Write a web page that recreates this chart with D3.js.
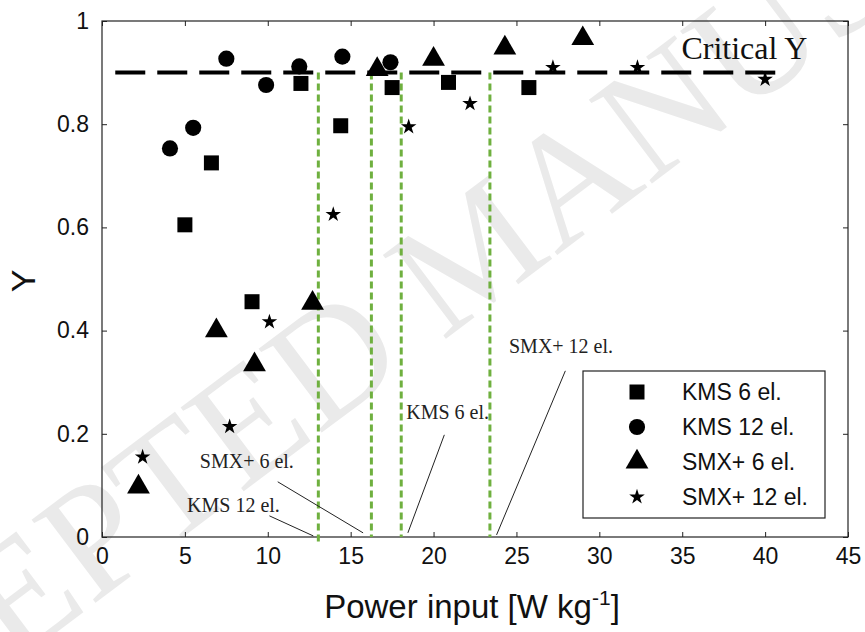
<!DOCTYPE html>
<html>
<head>
<meta charset="utf-8">
<script src="https://cdn.jsdelivr.net/npm/d3@7"></script>
<style>
  body { margin: 0; background: #fff; }
  text { font-family: "Liberation Sans", Arial, sans-serif; }
  .serif { font-family: "Liberation Serif", "Times New Roman", serif; }
</style>
</head>
<body>
<div id="dataviz"></div>
<script>
// tick values
var xTicks = [0, 5, 10, 15, 20, 25, 30, 35, 40, 45];
var yTicks = [0, 0.2, 0.4, 0.6, 0.8, 1];
var yTickLabels = ["0", "0.2", "0.4", "0.6", "0.8", "1"];

// series: [power input, Y]
var kms6 = [[5.0, 0.605], [6.6, 0.725], [9.05, 0.456], [12.0, 0.879], [14.4, 0.797],
            [17.5, 0.871], [20.9, 0.881], [25.75, 0.871]];
var kms12 = [[4.1, 0.753], [5.5, 0.793], [7.5, 0.927], [9.9, 0.876], [11.9, 0.912],
             [14.5, 0.931], [17.4, 0.92]];
var smx6 = [[2.2, 0.097], [6.9, 0.40], [9.2, 0.334], [12.7, 0.453], [16.6, 0.906],
            [20.0, 0.926], [24.3, 0.948], [29.0, 0.966]];
var smx12 = [[2.45, 0.155], [7.7, 0.214], [10.1, 0.417], [13.95, 0.625], [18.5, 0.795],
             [22.2, 0.84], [27.2, 0.91], [32.3, 0.91], [40.0, 0.887]];

var seriesNames = ["KMS 6 el.", "KMS 12 el.", "SMX+ 6 el.", "SMX+ 12 el."];

// critical Y and critical power inputs
var criticalY = 0.9;
var criticalRange = [0.8, 40.8];
var criticalPower = [13.05, 16.25, 18.05, 23.4];

// annotation labels: text anchor, leader line start and end (data units)
var annotLabels = ["KMS 12 el.", "SMX+ 6 el.", "KMS 6 el.", "SMX+ 12 el."];
var annotText = [[5.13, 0.048], [5.9, 0.134], [18.35, 0.229], [24.55, 0.357]];
var annotFrom = [[10.1, 0.041], [10.6, 0.107], [20.65, 0.198], [27.95, 0.322]];
var annotTo = [[12.75, 0.002], [15.75, 0.008], [18.45, 0.008], [23.8, 0.004]];

var margin = { top: 21, right: 17, bottom: 95, left: 102 },
    width = 865 - margin.left - margin.right,
    height = 632 - margin.top - margin.bottom;

var root = d3.select("#dataviz")
    .append("svg")
    .attr("width", 865)
    .attr("height", 632);

// faint watermark in the background
root.append("text")
    .attr("class", "serif")
    .attr("transform", "translate(508,292) rotate(-37)")
    .attr("text-anchor", "middle")
    .attr("font-size", 160)
    .attr("fill", "#eaeaea")
    .text("ACCEPTED MANUSCRIPT");

var svg = root.append("g")
    .attr("transform", "translate(" + margin.left + "," + margin.top + ")");

var x = d3.scaleLinear().domain([0, 45]).range([0, width]);
var y = d3.scaleLinear().domain([0, 1]).range([height, 0]);

// axes with inward ticks on all four sides
svg.append("g")
    .attr("transform", "translate(0," + height + ")")
    .call(d3.axisBottom(x).tickValues(xTicks).tickSizeInner(-5).tickSizeOuter(0).tickPadding(11))
    .call(function (g) {
        g.select(".domain").remove();
        g.selectAll("text").attr("font-size", 23).attr("fill", "#111").attr("dy", "0.71em");
    });
svg.append("g")
    .call(d3.axisTop(x).tickValues(xTicks).tickSizeInner(-5).tickSizeOuter(0).tickFormat(""))
    .call(function (g) { g.select(".domain").remove(); });
svg.append("g")
    .call(d3.axisLeft(y).tickValues(yTicks).tickSizeInner(-5).tickSizeOuter(0).tickPadding(13)
        .tickFormat(function (d, i) { return yTickLabels[i]; }))
    .call(function (g) {
        g.select(".domain").remove();
        g.selectAll("text").attr("font-size", 23).attr("fill", "#111");
    });
svg.append("g")
    .attr("transform", "translate(" + width + ",0)")
    .call(d3.axisRight(y).tickValues(yTicks).tickSizeInner(-5).tickSizeOuter(0).tickFormat(""))
    .call(function (g) { g.select(".domain").remove(); });
svg.selectAll(".tick line").attr("stroke", "#222");

svg.append("rect")
    .attr("width", width)
    .attr("height", height)
    .attr("fill", "none")
    .attr("stroke", "#222")
    .attr("stroke-width", 1.2);

// axis labels
svg.append("text")
    .attr("x", width / 2 - 3)
    .attr("y", height + 81)
    .attr("text-anchor", "middle")
    .attr("font-size", 33)
    .attr("fill", "#111")
    .call(function (t) {
        t.append("tspan").text("Power input [W kg");
        t.append("tspan").attr("dy", -13).attr("font-size", 21).text("-1");
        t.append("tspan").attr("dy", 13).text("]");
    });

svg.append("text")
    .attr("transform", "translate(" + (-67) + "," + (height / 2 + 2) + ") rotate(-90)")
    .attr("text-anchor", "middle")
    .attr("font-size", 34)
    .attr("fill", "#111")
    .text("Y");

// green critical power lines
svg.selectAll(".crit-power")
    .data(criticalPower)
    .enter().append("line")
    .attr("class", "crit-power")
    .attr("x1", function (d) { return x(d); })
    .attr("x2", function (d) { return x(d); })
    .attr("y1", y(criticalY))
    .attr("y2", function (d, i) { return i == 0 ? y(-0.016) : y(0); })
    .attr("stroke", "#6fb03f")
    .attr("stroke-width", 3)
    .attr("stroke-dasharray", "7,4");

// critical Y dashed line
svg.append("path")
    .datum(criticalRange)
    .attr("fill", "none")
    .attr("stroke", "#000")
    .attr("stroke-width", 4)
    .attr("stroke-dasharray", "30,12")
    .attr("d", d3.line()
        .x(function (d) { return x(d); })
        .y(function () { return y(criticalY); }));

svg.append("text")
    .attr("class", "serif")
    .attr("x", x(34.95))
    .attr("y", y(0.926))
    .attr("font-size", 32)
    .attr("fill", "#111")
    .text("Critical Y");

// annotations
annotLabels.forEach(function (lab, i) {
    svg.append("line")
        .attr("x1", x(annotFrom[i][0])).attr("y1", y(annotFrom[i][1]))
        .attr("x2", x(annotTo[i][0])).attr("y2", y(annotTo[i][1]))
        .attr("stroke", "#222")
        .attr("stroke-width", 1);
    svg.append("text")
        .attr("class", "serif")
        .attr("x", x(annotText[i][0]))
        .attr("y", y(annotText[i][1]))
        .attr("font-size", 20)
        .attr("fill", "#222")
        .text(lab);
});

// markers
var symbols = [
    d3.symbol().type(d3.symbolSquare).size(225),
    d3.symbol().type(d3.symbolCircle).size(205),
    d3.symbol().type(d3.symbolTriangle).size(225),
    d3.symbol().type(d3.symbolStar).size(75)
];
var allSeries = [kms6, kms12, smx6, smx12];

allSeries.forEach(function (series, i) {
    svg.selectAll(".pt" + i)
        .data(series)
        .enter().append("path")
        .attr("class", "pt" + i)
        .attr("transform", function (d) { return "translate(" + x(d[0]) + "," + y(d[1]) + ")"; })
        .attr("d", symbols[i])
        .attr("fill", "#000");
});

// legend
var legend = root.append("g").attr("transform", "translate(583,371)");
legend.append("rect")
    .attr("width", 242)
    .attr("height", 147)
    .attr("fill", "#fff")
    .attr("stroke", "#222")
    .attr("stroke-width", 1.2);

seriesNames.forEach(function (name, i) {
    var row = legend.append("g").attr("transform", "translate(0," + (21 + i * 35) + ")");
    row.append("path")
        .attr("transform", "translate(54,0)")
        .attr("d", symbols[i])
        .attr("fill", "#000");
    row.append("text")
        .attr("x", 99)
        .attr("y", 8)
        .attr("font-size", 23)
        .attr("fill", "#111")
        .text(name);
});
</script>
</body>
</html>
